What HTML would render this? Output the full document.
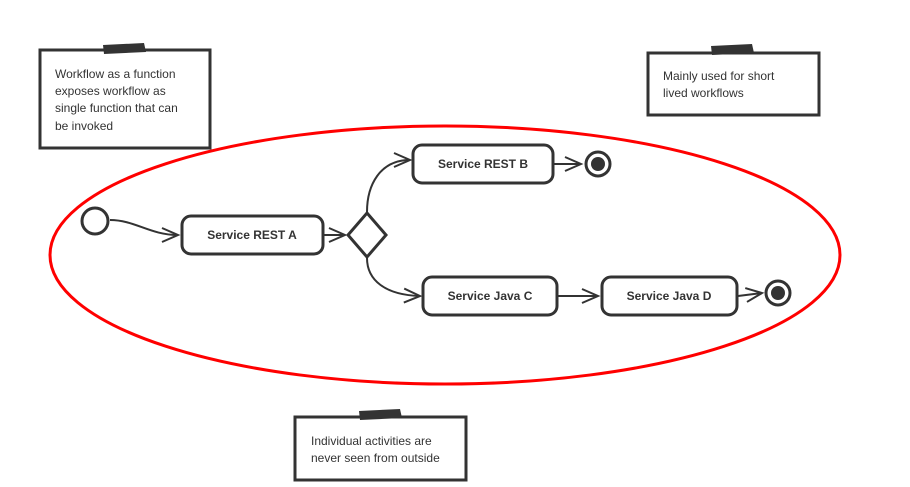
<!DOCTYPE html>
<html><head><meta charset="utf-8"><style>
html,body{margin:0;padding:0;background:#fff;}
svg{display:block;}
text{font-family:"Liberation Sans",sans-serif;fill:#333;}
</style></head><body>
<svg width="910" height="487" viewBox="0 0 910 487">
<defs>
<marker id="a" markerWidth="20" markerHeight="20" refX="17" refY="8" orient="auto" markerUnits="userSpaceOnUse">
<path d="M1,1 L17,8 L1,15" fill="none" stroke="#333" stroke-width="2"/>
</marker>
</defs>
<g fill="#fff" stroke="#333" stroke-width="3">
<rect x="40" y="50" width="170" height="98"/>
<rect x="648" y="53" width="171" height="62"/>
<rect x="295" y="417" width="171" height="63"/>
</g>
<g fill="#333">
<polygon points="103,45 144,43 146,52 104,54"/>
<polygon points="711,46 752,44 754,53 712,55"/>
<polygon points="359,411 400,409 402,418 360,420"/>
</g>
<g font-size="12">
<text x="55" y="78">Workflow as a function</text>
<text x="55" y="95">exposes workflow as</text>
<text x="55" y="112">single function that can</text>
<text x="55" y="130">be invoked</text>
<text x="663" y="80">Mainly used for short</text>
<text x="663" y="97">lived workflows</text>
<text x="311" y="445">Individual activities are</text>
<text x="311" y="462">never seen from outside</text>
</g>
<ellipse cx="445" cy="255" rx="395" ry="129" fill="none" stroke="#f00" stroke-width="3"/>
<g fill="none" stroke="#333" stroke-width="2">
<path d="M110,220 C135,220 150,235 178,235" marker-end="url(#a)"/>
<path d="M323,235 L345,235" marker-end="url(#a)"/>
<path d="M367,212 C367,185 380,160 410,160" marker-end="url(#a)"/>
<path d="M367,258 C367,280 385,295 420,296" marker-end="url(#a)"/>
<path d="M553,164 L581,164" marker-end="url(#a)"/>
<path d="M558,296 L598,296" marker-end="url(#a)"/>
<path d="M738,296 L762,293" marker-end="url(#a)"/>
</g>
<g fill="#fff" stroke="#333" stroke-width="3">
<circle cx="95" cy="221" r="13"/>
<rect x="182" y="216" width="141" height="38" rx="9"/>
<polygon points="367,213 386,235 367,257 348,235"/>
<rect x="413" y="145" width="140" height="38" rx="9"/>
<rect x="423" y="277" width="134" height="38" rx="9"/>
<rect x="602" y="277" width="135" height="38" rx="9"/>
<circle cx="598" cy="164" r="12"/>
<circle cx="778" cy="293" r="12"/>
</g>
<circle cx="598" cy="164" r="7" fill="#333"/>
<circle cx="778" cy="293" r="7" fill="#333"/>
<g font-size="12" font-weight="bold" text-anchor="middle">
<text x="252" y="239">Service REST A</text>
<text x="483" y="168">Service REST B</text>
<text x="490" y="300">Service Java C</text>
<text x="669" y="300">Service Java D</text>
</g>
</svg>
</body></html>
